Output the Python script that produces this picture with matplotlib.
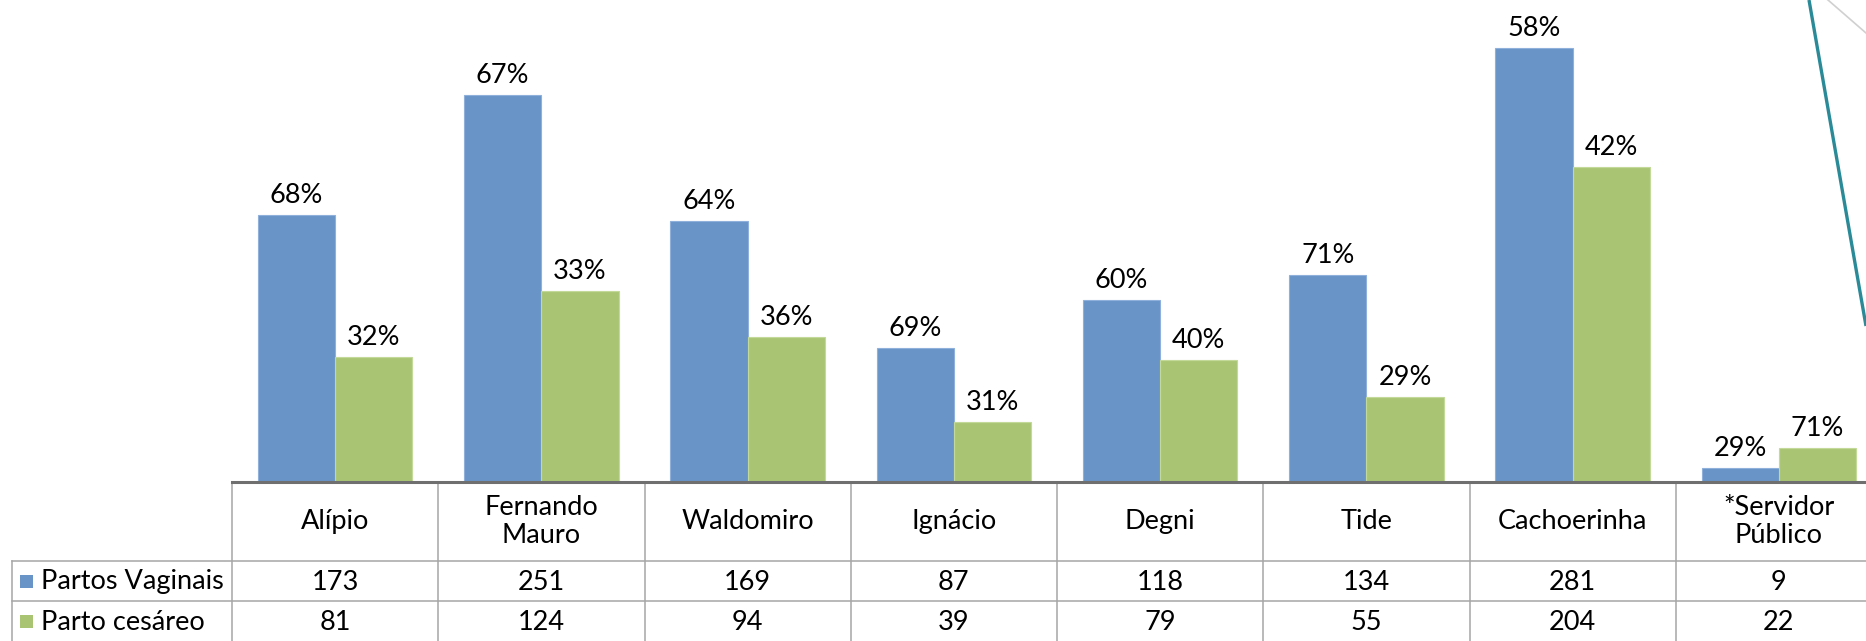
import matplotlib
matplotlib.use("Agg")
import matplotlib.pyplot as plt
from matplotlib import transforms
from matplotlib.patches import Rectangle
import numpy as np

# ---- data ----
categories = ["Alípio", "Fernando\nMauro", "Waldomiro", "Ignácio", "Degni",
              "Tide", "Cachoerinha", "*Servidor\nPúblico"]
series_names = ["Partos Vaginais", "Parto cesáreo"]
vaginais = [173, 251, 169, 87, 118, 134, 281, 9]
cesareo = [81, 124, 94, 39, 79, 55, 204, 22]
pct_vaginais = ["68%", "67%", "64%", "69%", "60%", "71%", "58%", "29%"]
pct_cesareo = ["32%", "33%", "36%", "31%", "40%", "29%", "42%", "71%"]

# ---- style ----
plt.rcParams["font.family"] = ["Lato", "DejaVu Sans"]
BLUE = "#6894C7"
GREEN = "#A9C574"
GRID = "#A6A6A6"
FS = 19.5

W, H = 1866, 641
fig = plt.figure(figsize=(W / 100, H / 100), dpi=100)
fig.patch.set_facecolor("white")

ax_left, ax_base, ax_top = 232, 482, 19
cat_w = 206.25
n = len(categories)
ax = fig.add_axes([ax_left / W, 1 - ax_base / H, n * cat_w / W, (ax_base - ax_top) / H])
ax.patch.set_alpha(0)

x = np.arange(n)
bw = 0.375
ax.bar(x + 0.5 - bw / 2, vaginais, width=bw, color=BLUE, edgecolor="#8EB0DA", linewidth=0.8)
ax.bar(x + 0.5 + bw / 2, cesareo, width=bw, color=GREEN, edgecolor="#C2D99A", linewidth=0.8)
for xi, v, p in zip(x + 0.5 - bw / 2, vaginais, pct_vaginais):
    ax.annotate(p, (xi, v), xytext=(0, 5), textcoords="offset points",
                ha="center", va="bottom", fontsize=FS, color="black")
for xi, v, p in zip(x + 0.5 + bw / 2, cesareo, pct_cesareo):
    ax.annotate(p, (xi, v), xytext=(0, 5), textcoords="offset points",
                ha="center", va="bottom", fontsize=FS, color="black")

ax.set_xlim(0, n)
ax.set_ylim(0, 300)
ax.set_xticks([])
ax.set_yticks([])
for s in ["top", "left", "right"]:
    ax.spines[s].set_visible(False)
ax.spines["bottom"].set_color("#6F6F6F")
ax.spines["bottom"].set_linewidth(2.2)

# ---- overlay for data table ----
ov = fig.add_axes([0, 0, 1, 1], zorder=-1)
ov.patch.set_alpha(0)
ov.set_xlim(0, W)
ov.set_ylim(H, 0)
ov.axis("off")
blend = transforms.blended_transform_factory(ax.transData, ov.transData)

row_top, hdr_bot, row1_bot, row2_bot = 482, 561, 601, 641
legend_left = 12

for i in range(n + 1):
    ov.plot([i, i], [row_top, row2_bot], transform=blend, color=GRID, lw=1.1, clip_on=False)
for yy in (hdr_bot, row1_bot):
    ov.plot([legend_left, W], [yy, yy], color=GRID, lw=1.1)
ov.plot([legend_left, legend_left], [hdr_bot, row2_bot], color=GRID, lw=1.1)

for i, cat in enumerate(categories):
    ov.text(i + 0.5, (row_top + hdr_bot) / 2, cat, transform=blend, ha="center",
            va="center", fontsize=FS, linespacing=1.15)
    ov.text(i + 0.5, (hdr_bot + row1_bot) / 2 + 1, str(vaginais[i]), transform=blend,
            ha="center", va="center", fontsize=FS)
    ov.text(i + 0.5, (row1_bot + row2_bot) / 2 + 1, str(cesareo[i]), transform=blend,
            ha="center", va="center", fontsize=FS)

for (name, col, y0, y1) in [(series_names[0], BLUE, hdr_bot, row1_bot),
                            (series_names[1], GREEN, row1_bot, row2_bot)]:
    yc = (y0 + y1) / 2
    ov.add_patch(Rectangle((20, yc - 6.5), 13, 13, facecolor=col, edgecolor="none"))
    ov.text(41, yc + 1, name, ha="left", va="center", fontsize=FS)

# ---- decorative slide lines (top right) ----
ov.plot([1809, 1866], [0, 326], color="#2B8A98", lw=2.4, solid_capstyle="butt")
ov.plot([1828, 1866], [0, 33], color="#D0D0D0", lw=1.2)

fig.savefig("out.png", dpi=100)
